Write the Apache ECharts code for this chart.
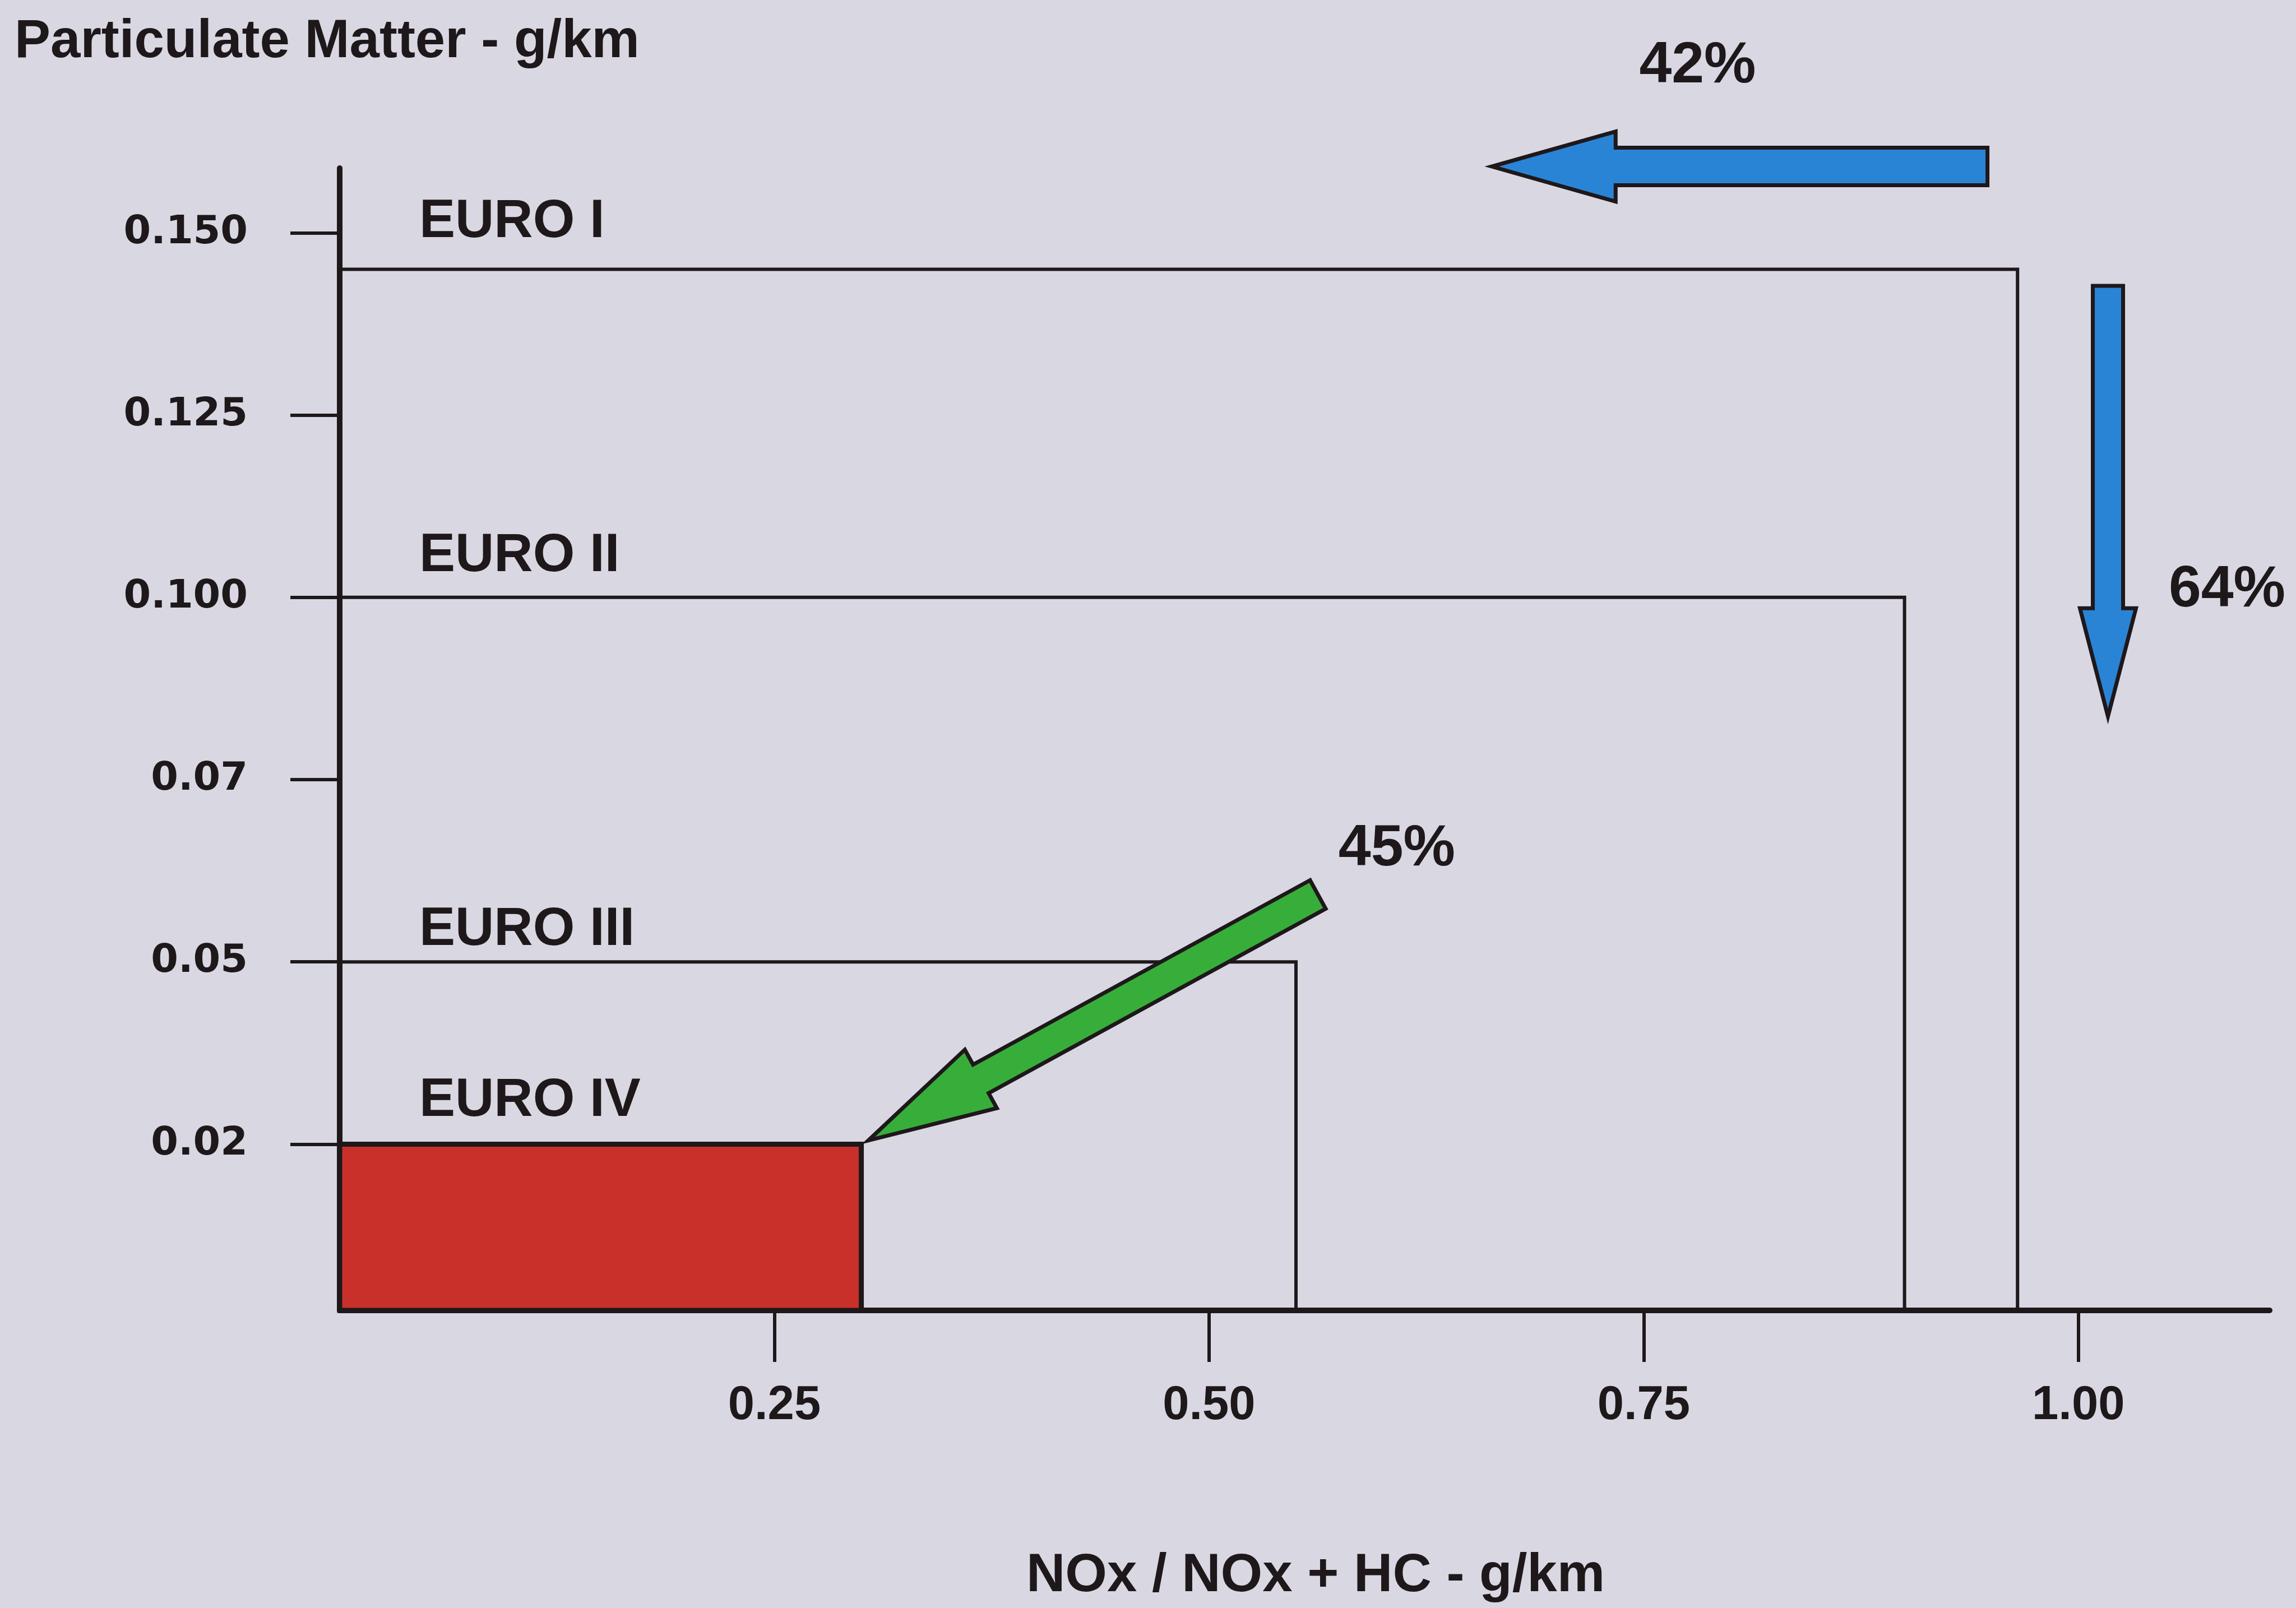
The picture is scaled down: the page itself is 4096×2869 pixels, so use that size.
<!DOCTYPE html>
<html>
<head>
<meta charset="utf-8">
<script src="https://cdn.jsdelivr.net/npm/echarts@6/dist/echarts.min.js"></script>
<style>
html,body{margin:0;padding:0;background:#d9d8e2;}
#c{width:4096px;height:2869px;}
</style>
</head>
<body>
<div id="c"></div>
<script>
// ---------------- data ----------------
const standards = ['EURO I', 'EURO II', 'EURO III', 'EURO IV'];
const noxLimits = [0.965, 0.90, 0.55, 0.30];      // NOx / NOx+HC  g/km
const pmLimits  = [0.145, 0.100, 0.05, 0.02];     // Particulate matter g/km
const yTickValues = [0.02, 0.05, 0.07, 0.100, 0.125, 0.150];
const yTickLabels = ['0.02', '0.05', '0.07', '0.100', '0.125', '0.150'];
const xTickValues = [0.25, 0.50, 0.75, 1.00];
const xTickLabels = ['0.25', '0.50', '0.75', '1.00'];
const reductionLabels = ['42%', '64%', '45%'];

// ---------------- PM scale ----------------
// The PM axis of the original is not linear: its ticks are evenly spaced
// (and the 0 to 0.02 step is slightly shorter). Piecewise-linear scale.
const Y_MIN = 0.088, Y_MAX = 6.355;
const pmStops = [0].concat(yTickValues);
const pmStopPos = [Y_MIN].concat(yTickValues.map((v, i) => i + 1));
function pmToAxis(v) {
  for (let i = 1; i < pmStops.length; i++) {
    if (v <= pmStops[i]) return pmStopPos[i - 1] + (v - pmStops[i - 1]) / (pmStops[i] - pmStops[i - 1]) * (pmStopPos[i] - pmStopPos[i - 1]);
  }
  const n = pmStops.length - 1;
  return pmStopPos[n - 1] + (v - pmStops[n - 1]) / (pmStops[n] - pmStops[n - 1]) * (pmStopPos[n] - pmStopPos[n - 1]);
}
const yTickPos = yTickValues.map(pmToAxis);

// ---------------- styles / layout ----------------
const dark = '#1e181b';
const red = '#c9302a';
const blue = '#2a84d6';
const green = '#38ae3a';
const sans = 'Liberation Sans, Arial, sans-serif';
const labelLift = [84, 73, 57, 77];   // px between each limit line and its name

// annotation arrows (layout in axis coordinates)
const arrowLayout = [
  {from: [0.9477, 6.364], to: [0.6626, 6.364], shaft: 67, head: 125, headLen: 221, color: blue, label: [0.781, 6.915]},
  {from: [1.017, 5.709], to: [1.017, 3.347], shaft: 54, head: 100, headLen: 193, color: blue, label: [1.0855, 4.039]},
  {from: [0.5626, 2.37], to: [0.304, 1.02], shaft: 58, head: 119, headLen: 229, color: green, label: [0.608, 2.618]}
];

const chart = echarts.init(document.getElementById('c'));

function arrowPoints(a, b, sw, hw, hl) {
  const dx = b[0] - a[0], dy = b[1] - a[1];
  const L = Math.sqrt(dx * dx + dy * dy);
  const ux = dx / L, uy = dy / L;
  const nx = -uy, ny = ux;
  const bx = b[0] - ux * hl, by = b[1] - uy * hl;
  return [
    [a[0] + nx * sw / 2, a[1] + ny * sw / 2],
    [bx + nx * sw / 2, by + ny * sw / 2],
    [bx + nx * hw / 2, by + ny * hw / 2],
    [b[0], b[1]],
    [bx - nx * hw / 2, by - ny * hw / 2],
    [bx - nx * sw / 2, by - ny * sw / 2],
    [a[0] - nx * sw / 2, a[1] - ny * sw / 2]
  ];
}

const option = {
  backgroundColor: '#d9d8e2',
  animation: false,
  grid: {left: 606, right: 47, top: 300, bottom: 531, containLabel: false, outerBoundsMode: 'none'},
  xAxis: {
    type: 'value', min: 0, max: 1.11,
    axisLine: {show: true, onZero: false, lineStyle: {color: dark, width: 10}},
    axisTick: {show: true, customValues: xTickValues, length: 92, inside: false, lineStyle: {color: dark, width: 6}},
    axisLabel: {
      show: true, customValues: xTickValues, margin: 128,
      formatter: function (v) {
        const i = xTickValues.findIndex(t => Math.abs(t - v) < 1e-9);
        return i >= 0 ? xTickLabels[i] : '';
      },
      color: dark, fontFamily: sans, fontWeight: 'bold', fontSize: 85
    },
    splitLine: {show: false}
  },
  yAxis: {
    type: 'value', min: Y_MIN, max: Y_MAX,
    axisLine: {show: true, lineStyle: {color: dark, width: 10}},
    axisTick: {show: true, customValues: yTickPos, length: 88, inside: false, lineStyle: {color: dark, width: 6}},
    axisLabel: {
      show: true, customValues: yTickPos, margin: 164,
      formatter: function (v) {
        const i = yTickPos.findIndex(t => Math.abs(t - v) < 1e-9);
        return i >= 0 ? yTickLabels[i] : '';
      },
      color: dark, fontFamily: 'DejaVu Sans', fontWeight: 'bold', fontSize: 70
    },
    splitLine: {show: false}
  },
  graphic: [
    {type: 'text', left: 26, top: 28, style: {text: 'Particulate Matter - g/km', fill: dark, font: 'bold 96px ' + sans}},
    {type: 'text', x: 2347, y: 2813, style: {text: 'NOx / NOx + HC - g/km', fill: dark, font: 'bold 96px ' + sans, align: 'center', verticalAlign: 'middle'}}
  ],
  series: [
    {
      type: 'custom', name: 'standards', coordinateSystem: 'cartesian2d', clip: false, z: 3,
      data: standards.map((s, i) => [noxLimits[i], pmToAxis(pmLimits[i]), i]),
      renderItem: function (params, api) {
        const i = api.value(2);
        const o = api.coord([0, pmToAxis(0)]);
        const p = api.coord([api.value(0), api.value(1)]);
        const children = [];
        if (i === 3) {
          children.push({type: 'rect', shape: {x: o[0], y: p[1], width: p[0] - o[0], height: o[1] - p[1]},
            style: {fill: red, stroke: dark, lineWidth: 9}});
        } else {
          children.push({type: 'polyline', shape: {points: [[o[0], p[1]], [p[0], p[1]], [p[0], o[1]]]},
            style: {fill: null, stroke: dark, lineWidth: 6}});
        }
        children.push({type: 'text', style: {text: standards[i], x: o[0] + 142, y: p[1] - labelLift[i],
          fill: dark, font: 'bold 96px ' + sans, align: 'left', verticalAlign: 'middle'}});
        return {type: 'group', children: children};
      }
    },
    {
      type: 'custom', name: 'reductions', coordinateSystem: 'cartesian2d', clip: false, z: 4,
      data: reductionLabels.map((t, i) => [arrowLayout[i].to[0], arrowLayout[i].to[1], i]),
      renderItem: function (params, api) {
        const i = api.value(2);
        const a = arrowLayout[i];
        const p0 = api.coord(a.from);
        const p1 = api.coord(a.to);
        const pl = api.coord(a.label);
        return {type: 'group', children: [
          {type: 'polygon', shape: {points: arrowPoints(p0, p1, a.shaft, a.head, a.headLen)},
            style: {fill: a.color, stroke: dark, lineWidth: 7, lineJoin: 'miter'}},
          {type: 'text', style: {text: reductionLabels[i], x: pl[0], y: pl[1], fill: dark,
            font: 'bold 104px ' + sans, align: 'center', verticalAlign: 'middle'}}
        ]};
      }
    }
  ]
};
chart.setOption(option);
</script>
</body>
</html>
